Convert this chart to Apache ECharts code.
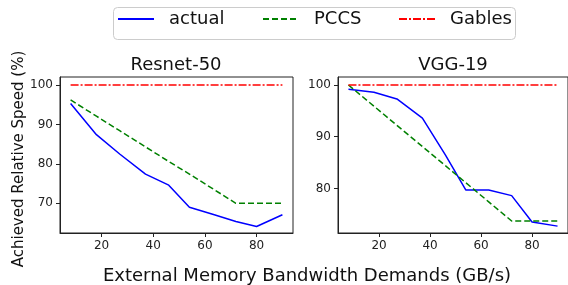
<!DOCTYPE html>
<html>
<head>
<meta charset="utf-8">
<script src="https://cdn.jsdelivr.net/npm/echarts@6/dist/echarts.min.js"></script>
<style>
    html, body {margin: 0; padding: 0; background: #fff;}
    #main {width: 568px; height: 285px;}
</style>
</head>
<body>
<div id="main"></div>
<script>
// bandwidth demand (GB/s)
var bandwidth = [8, 18, 27, 37, 46, 54, 63, 72, 80, 90];

// Resnet-50
var resnetActual = [95.3, 87.4, 82.5, 77.4, 74.6, 69.0, 67.2, 65.4, 64.1, 67.1];
var resnetPccs   = [96.2, 92.1, 88.4, 84.3, 80.6, 77.4, 73.7, 70.0, 70.0, 70.0];
var resnetGables = [100, 100, 100, 100, 100, 100, 100, 100, 100, 100];

// VGG-19
var vggActual = [99.2, 98.6, 97.3, 93.6, 86.5, 79.7, 79.7, 78.6, 73.5, 72.7];
var vggPccs   = [100.0, 95.9, 92.2, 88.1, 84.4, 81.1, 77.4, 73.7, 73.7, 73.7];
var vggGables = [100, 100, 100, 100, 100, 100, 100, 100, 100, 100];

var xTicks = [20, 40, 60, 80];
var resnetTicks = [70, 80, 90, 100];
var vggTicks = [80, 90, 100];

var fontName = 'DejaVu Sans';

function pairs(vals) {
    return bandwidth.map(function (x, i) { return [x, vals[i]]; });
}

var chartDom = document.getElementById('main');
var myChart = echarts.init(chartDom, null, {renderer: 'canvas'});
var option;

function xAxisFor(idx) {
    return {
        type: 'value',
        gridIndex: idx,
        min: 3.9,
        max: 94.1,
        axisLine: {show: true, lineStyle: {color: '#222', width: 1}},
        axisTick: {show: true, length: 4, customValues: xTicks, lineStyle: {color: '#222'}},
        axisLabel: {customValues: xTicks, margin: 7, fontSize: 12, color: '#222', fontFamily: fontName},
        splitLine: {show: false}
    };
}

function yAxisFor(idx, lo, hi, ticks) {
    return {
        type: 'value',
        gridIndex: idx,
        min: lo,
        max: hi,
        axisLine: {show: true, lineStyle: {color: '#222', width: 1}},
        axisTick: {show: true, length: 4, customValues: ticks, lineStyle: {color: '#222'}},
        axisLabel: {customValues: ticks, margin: 7, fontSize: 12, color: '#222', fontFamily: fontName},
        splitLine: {show: false}
    };
}

function lineSeries(name, vals, idx, color, dash) {
    return {
        name: name,
        type: 'line',
        xAxisIndex: idx,
        yAxisIndex: idx,
        data: pairs(vals),
        symbol: 'none',
        animation: false,
        lineStyle: {color: color, width: 1.5, type: dash},
        itemStyle: {color: color}
    };
}

function legendFor(name, left) {
    return {
        data: [name],
        left: left,
        top: 10,
        itemWidth: 36,
        itemHeight: 14,
        padding: 0,
        // hide the marker dot, keep only the line sample
        itemStyle: {color: 'transparent', borderColor: 'transparent', borderWidth: 0},
        textStyle: {fontSize: 18, color: '#111', fontFamily: fontName, padding: [0, 0, 0, 10]}
    };
}

option = {
    animation: false,
    backgroundColor: '#fff',
    legend: [
        legendFor('actual', 117),
        legendFor('PCCS', 262),
        legendFor('Gables', 398)
    ],
    grid: [
        {left: 60, top: 77, width: 233, height: 156, show: true, borderColor: '#222', borderWidth: 1},
        {left: 338, top: 77, width: 233, height: 156, show: true, borderColor: '#222', borderWidth: 1}
    ],
    xAxis: [xAxisFor(0), xAxisFor(1)],
    yAxis: [
        yAxisFor(0, 62.46, 102.03, resnetTicks),
        yAxisFor(1, 71.37, 101.55, vggTicks)
    ],
    graphic: [
        {type: 'rect', left: 111, top: 5, shape: {width: 402, height: 32, r: 4},
         style: {fill: 'none', stroke: '#ccc', lineWidth: 1}, z: -1},
        {type: 'text', x: 176, y: 65, style: {text: 'Resnet-50', font: '18px "DejaVu Sans"', fill: '#111', textAlign: 'center', textVerticalAlign: 'middle'}},
        {type: 'text', x: 453, y: 65, style: {text: 'VGG-19', font: '18px "DejaVu Sans"', fill: '#111', textAlign: 'center', textVerticalAlign: 'middle'}},
        {type: 'text', x: 307, y: 276, style: {text: 'External Memory Bandwidth Demands (GB/s)', font: '18px "DejaVu Sans"', fill: '#111', textAlign: 'center', textVerticalAlign: 'middle'}},
        {type: 'text', x: 19, y: 159, rotation: Math.PI / 2, style: {text: 'Achieved Relative Speed (%)', font: '15px "DejaVu Sans"', fill: '#111', textAlign: 'center', textVerticalAlign: 'middle'}}
    ],
    series: [
        lineSeries('actual', resnetActual, 0, '#0000ff', 'solid'),
        lineSeries('PCCS', resnetPccs, 0, '#008000', [6, 3]),
        lineSeries('Gables', resnetGables, 0, '#ff0000', [8, 2, 2, 2]),
        lineSeries('actual', vggActual, 1, '#0000ff', 'solid'),
        lineSeries('PCCS', vggPccs, 1, '#008000', [6, 3]),
        lineSeries('Gables', vggGables, 1, '#ff0000', [8, 2, 2, 2])
    ]
};

option && myChart.setOption(option);

window.onresize = function () {
    myChart.resize();
};
</script>
</body>
</html>
